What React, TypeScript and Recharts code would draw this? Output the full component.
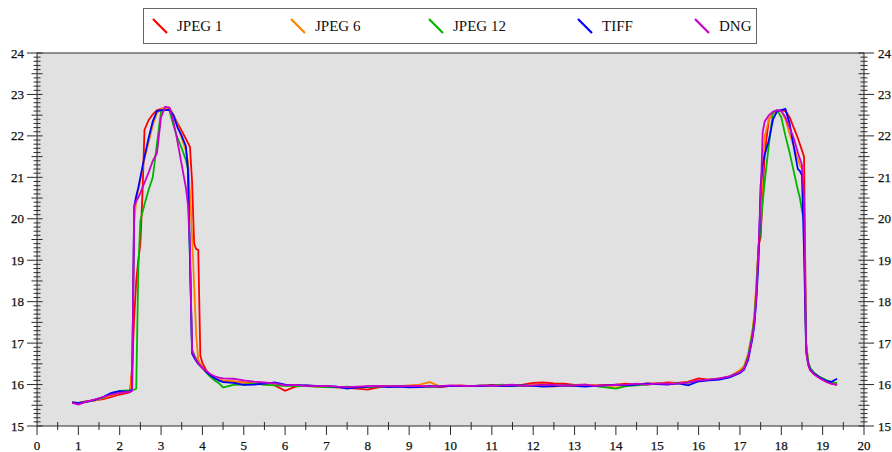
import React from 'react';
import { LineChart, Line, XAxis, YAxis, CartesianGrid, Legend, ReferenceLine } from 'recharts';

// sample positions (mm), shared by all five series
const xValues = [
  0.85, 1.0, 1.2, 1.4, 1.6, 1.8, 2.0, 2.2,
  2.25, 2.3, 2.35, 2.4, 2.45, 2.5, 2.55, 2.6, 2.7, 2.8, 2.9, 3.0, 3.1, 3.2, 3.3, 3.4, 3.5, 3.6,
  3.65, 3.7, 3.75, 3.8, 3.85, 3.9, 3.95, 4.0, 4.1, 4.2, 4.3, 4.4,
  4.5, 4.75, 5.0, 5.25, 5.5, 5.75, 6.0, 6.25, 6.5, 6.75, 7.0, 7.25, 7.5, 7.75, 8.0, 8.25, 8.5, 8.75,
  9.0, 9.25, 9.5, 9.75, 10.0, 10.25, 10.5, 10.75, 11.0, 11.25, 11.5, 11.75, 12.0, 12.25, 12.5, 12.75,
  13.0, 13.25, 13.5, 13.75, 14.0, 14.25, 14.5, 14.75, 15.0, 15.25, 15.5, 15.75, 16.0, 16.25, 16.5, 16.75,
  17.0, 17.1, 17.2, 17.3, 17.35, 17.4, 17.45, 17.5, 17.55, 17.6, 17.7, 17.8, 17.9, 18.0, 18.1, 18.2, 18.3, 18.4,
  18.45, 18.5, 18.55, 18.6, 18.65, 18.7, 18.8, 18.9, 19.0, 19.1, 19.2, 19.35,
];

const jpeg1 = [
  15.57, 15.56, 15.6, 15.62, 15.65, 15.7, 15.76, 15.8,
  15.82, 16.4, 17.6, 18.5, 19.0, 19.4, 20.6, 22.15, 22.38, 22.52, 22.62, 22.65, 22.68, 22.68, 22.5, 22.3, 22.12, 21.93,
  21.83, 21.73, 20.9, 19.4, 19.27, 19.25, 16.7, 16.52, 16.33, 16.22, 16.15, 16.1,
  16.08, 16.07, 16.05, 16.03, 16.02, 15.98, 15.85, 15.95, 15.98, 15.96, 15.95, 15.93, 15.92, 15.9, 15.88, 15.93, 15.96, 15.95,
  15.97, 15.95, 15.96, 15.94, 15.97, 15.98, 15.96, 15.97, 15.99, 15.97, 15.98, 16.0, 16.04, 16.05, 16.03, 16.02,
  15.99, 16.0, 15.98, 15.99, 16.0, 16.02, 16.0, 16.03, 16.02, 16.05, 16.04, 16.07, 16.15, 16.12, 16.14, 16.2,
  16.32, 16.42, 16.7, 17.2, 17.6, 18.4, 19.35, 19.55, 20.6, 21.6, 22.4, 22.55, 22.6, 22.62, 22.6, 22.45, 22.2, 21.95,
  21.8, 21.65, 21.5, 17.0, 16.5, 16.35, 16.25, 16.18, 16.12, 16.07, 16.03, 15.99,
];

const jpeg6 = [
  15.56, 15.55, 15.58, 15.62, 15.67, 15.74, 15.8, 15.82,
  15.83, 16.3, 19.9, 20.45, 20.7, 20.95, 21.2, 21.45, 21.85, 22.25, 22.55, 22.65, 22.68, 22.65, 22.5, 22.25, 21.95, 21.65,
  21.4, 20.6, 19.6, 18.4, 17.2, 16.6, 16.5, 16.42, 16.3, 16.21, 16.15, 16.12,
  16.1, 16.08, 16.04, 16.02, 16.0, 15.99, 15.98, 15.97, 15.96, 15.95, 15.95, 15.94, 15.93, 15.94, 15.95, 15.96, 15.97, 15.96,
  15.98, 16.0, 16.06, 15.95, 15.97, 15.96, 15.97, 15.96, 15.98, 15.97, 15.96, 15.98, 15.99, 15.96, 15.95, 15.98,
  15.97, 15.99, 15.98, 15.97, 15.92, 15.98, 16.0, 16.01, 16.03, 16.02, 16.04, 16.06, 16.1, 16.11, 16.13, 16.19,
  16.35, 16.45, 16.75, 17.3, 17.7, 18.5, 19.3, 20.0, 21.2, 22.0, 22.4, 22.55, 22.6, 22.6, 22.4, 22.05, 21.75, 21.45,
  21.3, 21.2, 20.0, 16.9, 16.55, 16.38, 16.27, 16.2, 16.14, 16.09, 16.05, 16.02,
];

const jpeg12 = [
  15.57, 15.55, 15.59, 15.63, 15.69, 15.78, 15.85, 15.86,
  15.86, 15.87, 15.88, 15.9, 18.8, 19.95, 20.15, 20.35, 20.7, 21.0, 21.8, 22.6, 22.62, 22.62, 22.25, 21.95, 21.7, 21.42,
  21.2, 19.0, 16.85, 16.72, 16.62, 16.52, 16.46, 16.4, 16.28, 16.18, 16.1, 16.03,
  15.93, 15.99, 16.0, 16.02, 16.0, 15.98, 15.97, 15.96, 15.97, 15.95, 15.94, 15.93, 15.95, 15.93, 15.94, 15.95, 15.96, 15.95,
  15.96, 15.95, 15.94, 15.97, 15.96, 15.97, 15.96, 15.98, 15.97, 16.0, 15.97, 15.98, 15.97, 15.99, 15.98, 15.97,
  15.98, 15.97, 15.96, 15.93, 15.9, 15.96, 15.98, 16.0, 16.02, 16.01, 16.03, 16.05, 16.08, 16.12, 16.14, 16.2,
  16.3, 16.4, 16.7, 17.25, 17.6, 18.3, 19.3, 19.8, 20.4, 20.9, 21.8, 22.58, 22.62, 22.45, 22.0, 21.6, 21.15, 20.7,
  20.5, 20.2, 19.95, 17.0, 16.55, 16.4, 16.28, 16.2, 16.15, 16.1, 16.07, 16.03,
];

const tiff = [
  15.57, 15.55, 15.58, 15.63, 15.7, 15.8, 15.84, 15.83,
  15.83, 15.9, 20.3, 20.55, 20.75, 21.0, 21.25, 21.5, 21.95, 22.35, 22.6, 22.62, 22.62, 22.63, 22.5, 22.2, 22.0, 21.75,
  21.2, 19.0, 16.75, 16.65, 16.57, 16.5, 16.45, 16.4, 16.3, 16.22, 16.15, 16.1,
  16.06, 16.04, 15.99, 16.0, 16.02, 16.05, 16.0, 15.99, 15.98, 15.97, 15.96, 15.95, 15.9, 15.93, 15.95, 15.96, 15.94, 15.95,
  15.93, 15.94, 15.96, 15.95, 15.97, 15.96, 15.97, 15.96, 15.98, 15.96, 15.97, 15.98, 15.97, 15.95, 15.96, 15.98,
  15.97, 15.95, 15.97, 15.98, 16.0, 15.98, 16.0, 16.02, 16.01, 16.0, 16.03, 15.98, 16.08, 16.1, 16.12, 16.17,
  16.28, 16.36, 16.6, 17.1, 17.45, 18.1, 19.0, 20.8, 21.3, 21.55, 21.9, 22.4, 22.6, 22.62, 22.65, 22.3, 21.75, 21.2,
  21.15, 21.05, 19.2, 16.8, 16.5, 16.36, 16.26, 16.19, 16.13, 16.08, 16.06, 16.14,
];

const dng = [
  15.56, 15.52, 15.59, 15.64, 15.7, 15.76, 15.8, 15.82,
  15.82, 15.85, 20.3, 20.42, 20.52, 20.62, 20.75, 20.87, 21.12, 21.4, 21.58, 22.45, 22.7, 22.68, 22.35, 21.85, 21.3, 20.75,
  20.35, 19.3, 16.8, 16.7, 16.6, 16.52, 16.45, 16.4, 16.32, 16.25, 16.2, 16.17,
  16.15, 16.14, 16.1, 16.07, 16.05, 16.03, 15.98, 15.99, 15.97, 15.96, 15.97, 15.95, 15.94, 15.95, 15.96, 15.97, 15.96, 15.97,
  15.96, 15.97, 15.95, 15.96, 15.98, 15.97, 15.96, 15.98, 15.97, 15.98, 16.0, 15.97, 15.98, 16.0, 15.99, 15.97,
  15.98, 16.0, 15.97, 15.98, 15.99, 16.0, 16.02, 16.0, 16.03, 16.02, 16.03, 16.05, 16.1, 16.12, 16.15, 16.2,
  16.3, 16.38, 16.65, 17.15, 17.5, 18.2, 19.3, 20.5, 22.1, 22.35, 22.5, 22.58, 22.62, 22.6, 22.45, 22.2, 21.95, 21.6,
  21.45, 21.3, 20.5, 16.8, 16.48, 16.34, 16.24, 16.17, 16.11, 16.06, 16.02, 15.99,
];

const seriesNames = ['JPEG 1', 'JPEG 6', 'JPEG 12', 'TIFF', 'DNG'];
const seriesColors = ['#ff0000', '#ff8000', '#00b400', '#0000ff', '#cc00cc'];
const seriesValues = [jpeg1, jpeg6, jpeg12, tiff, dng];

const xTickLabels = [0, 1, 2, 3, 4, 5, 6, 7, 8, 9, 10, 11, 12, 13, 14, 15, 16, 17, 18, 19, 20];
const yTickLabels = [15, 16, 17, 18, 19, 20, 21, 22, 23, 24];

// minor ticks: every 0.5 on x, every 0.1 on y
const xTicks = Array.from({ length: 41 }, (_, i) => i / 2);
const yTicks = Array.from({ length: 91 }, (_, i) => Math.round((15 + i / 10) * 10) / 10);

const rows = xValues.map((x, i) => {
  const r: any = { x };
  seriesValues.forEach((s, k) => { r['s' + k] = s[i]; });
  return r;
});

const FONT = '"Liberation Serif", "DejaVu Serif", serif';
const AXIS = '#2b2b2b';

const isInt = (v: number) => Math.abs(v - Math.round(v)) < 1e-6;
const isHalf = (v: number) => Math.abs(v * 2 - Math.round(v * 2)) < 1e-6;

const labelProps = { fontFamily: FONT, fontSize: 13, fill: '#111', stroke: '#111', strokeWidth: 0.25 };

const LeftTick = ({ x, y, payload }: any) => {
  const v = payload.value;
  const major = isInt(v);
  const half = isHalf(v);
  const inner = major || half ? 5.5 : 3.5;
  const outer = major ? 10 : half ? 5.5 : 3.5;
  return (
    <g>
      <line x1={x - outer} x2={x + inner} y1={y} y2={y} stroke={AXIS} strokeWidth={1} />
      {major && yTickLabels.includes(Math.round(v)) && (
        <text x={x - 13} y={y + 4.5} textAnchor="end" {...labelProps}>{Math.round(v)}</text>
      )}
    </g>
  );
};

const RightTick = ({ x, y, payload }: any) => {
  const v = payload.value;
  const major = isInt(v);
  const half = isHalf(v);
  const inner = major || half ? 5.5 : 3.5;
  const outer = major ? 10 : half ? 5.5 : 3.5;
  return (
    <g>
      <line x1={x - inner} x2={x + outer} y1={y} y2={y} stroke={AXIS} strokeWidth={1} />
      {major && yTickLabels.includes(Math.round(v)) && (
        <text x={x + 14} y={y + 4.5} textAnchor="start" {...labelProps}>{Math.round(v)}</text>
      )}
    </g>
  );
};

const BottomTick = ({ x, y, payload }: any) => {
  const v = payload.value;
  if (isInt(v)) {
    return (
      <g>
        <line x1={x} x2={x} y1={y} y2={y + 9} stroke={AXIS} strokeWidth={1} />
        {xTickLabels.includes(Math.round(v)) && (
          <text x={x} y={y + 24} textAnchor="middle" {...labelProps}>{Math.round(v)}</text>
        )}
      </g>
    );
  }
  return <line x1={x} x2={x} y1={y - 4} y2={y + 4} stroke={AXIS} strokeWidth={1} />;
};

const markerLeft = [8, 146, 284, 433, 550];

const renderLegend = () => (
  <div
    style={{
      position: 'relative',
      width: 612,
      height: 34,
      border: '1px solid #666',
      background: '#fff',
      fontFamily: FONT,
      fontSize: 15,
      color: '#111',
    }}
  >
    {seriesNames.map((name, i) => (
      <div key={name} style={{ position: 'absolute', left: markerLeft[i], top: 9, display: 'flex', alignItems: 'center', whiteSpace: 'nowrap' }}>
        <svg width={16} height={16} style={{ display: 'block' }}>
          <line x1={1} y1={1} x2={15} y2={15} stroke={seriesColors[i]} strokeWidth={2.2} />
        </svg>
        <span style={{ marginLeft: 9, lineHeight: '16px' }}>{name}</span>
      </div>
    ))}
  </div>
);

export default function App() {
  return (
    <div style={{ position: 'absolute', left: 0, top: 0, width: 892, height: 452, background: '#fff' }}>
      <LineChart width={892} height={452} data={rows} margin={{ top: 53, right: 0, bottom: 0, left: 0 }}>
        <CartesianGrid horizontal={false} vertical={false} fill="#e1e1e1" stroke="none" />
        <XAxis
          dataKey="x"
          type="number"
          domain={[0, 20]}
          ticks={xTicks}
          interval={0}
          height={26}
          tickSize={0}
          tickMargin={0}
          tickLine={false}
          axisLine={{ stroke: AXIS }}
          tick={<BottomTick />}
          allowDataOverflow
        />
        <YAxis
          yAxisId="left"
          type="number"
          domain={[15, 24]}
          ticks={yTicks}
          interval={0}
          width={37}
          tickSize={0}
          tickMargin={0}
          tickLine={false}
          axisLine={{ stroke: AXIS }}
          tick={<LeftTick />}
          allowDataOverflow
        />
        <YAxis
          yAxisId="right"
          orientation="right"
          type="number"
          domain={[15, 24]}
          ticks={yTicks}
          interval={0}
          width={28}
          tickSize={0}
          tickMargin={0}
          tickLine={false}
          axisLine={{ stroke: AXIS }}
          tick={<RightTick />}
          allowDataOverflow
        />
        <ReferenceLine yAxisId="left" y={24} stroke={AXIS} strokeWidth={1} />
        {seriesNames.map((name, i) => (
          <Line
            key={name}
            yAxisId="left"
            type="linear"
            dataKey={'s' + i}
            name={name}
            stroke={seriesColors[i]}
            strokeWidth={1.8}
            dot={false}
            isAnimationActive={false}
          />
        ))}
        <Legend
          layout="horizontal"
          verticalAlign="middle"
          align="center"
          wrapperStyle={{ top: 8, left: 143, width: 614, height: 36 }}
          content={renderLegend}
        />
      </LineChart>
    </div>
  );
}
